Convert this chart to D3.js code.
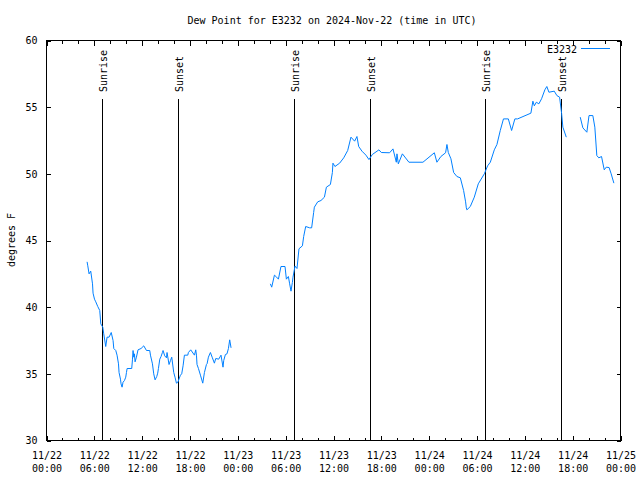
<!DOCTYPE html>
<html><head><meta charset="utf-8">
<script src="https://cdn.jsdelivr.net/npm/d3@7"></script>
<style>body{margin:0;background:#fff} svg{display:block} text{font-family:"DejaVu Sans Mono",monospace;font-size:10px;fill:#000}</style>
</head><body><svg id="c" width="640" height="480"></svg>
<script>
// hours since 2024-11-22 00:00 UTC; null dew point marks a data gap
const hours = [
5.09,5.18,5.34,5.55,5.77,5.84,6.02,6.18,6.43,6.68,6.81,7.06,7.18,7.43,7.60,7.85,8.12,8.35,8.44,8.69,8.85,9.03,9.10,9.28,9.35,9.48,9.60,9.78,9.94,10.03,10.11,10.69,10.78,10.86,10.95,11.03,11.11,11.28,11.48,11.86,12.20,12.54,12.95,13.04,13.29,13.45,13.62,13.83,13.95,14.04,14.21,14.37,14.54,14.62,14.83,15.05,15.12,15.37,15.55,15.71,15.96,16.12,16.30,16.46,16.80,16.96,17.13,17.30,17.72,17.80,18.09,18.56,18.72,18.81,18.88,19.06,19.31,19.60,19.81,20.06,20.14,20.31,20.56,20.81,21.06,21.23,21.60,21.89,22.14,22.23,22.44,22.64,22.82,22.98,23.15,
25.5,
28.08,28.25,28.59,28.87,29.09,29.41,29.92,30.09,30.34,30.50,30.67,30.84,30.92,31.17,31.42,31.67,32.10,32.26,32.51,33.01,33.26,33.51,33.60,34.02,34.43,34.86,35.11,35.61,35.86,35.93,36.18,36.77,37.28,37.78,38.19,38.65,38.94,39.16,39.57,40.07,40.45,40.87,41.70,42.00,43.04,43.46,43.88,43.96,44.13,44.64,45.46,47.22,48.65,48.97,49.47,50.06,50.23,50.40,50.73,51.07,51.48,51.91,52.32,52.57,52.66,52.73,53.16,53.66,54.16,54.92,55.33,55.67,56.17,56.50,56.92,57.32,57.93,58.34,58.75,59.09,60.76,61.01,61.19,61.44,61.76,62.10,62.51,62.76,63.02,63.69,64.02,64.36,64.61,64.77,65.20,
66.0,
66.95,67.28,67.78,68.05,68.53,68.78,69.03,69.28,69.62,69.96,70.21,70.57,70.83,71.17
];
const dewPoint = [
43.4,43.1,42.5,42.7,41.75,41.05,40.6,40.4,40.05,39.75,38.75,38.5,38.0,37.05,37.75,37.75,38.1,37.5,36.9,36.75,36.4,35.75,35.1,34.6,34.25,34.0,34.37,34.5,34.75,35.1,35.4,35.4,36.05,36.75,36.25,36.5,35.9,36.25,36.8,36.9,37.1,36.75,36.75,36.4,35.75,35.0,34.55,34.8,35.05,35.4,36.1,36.3,36.6,36.75,36.35,36.2,36.6,35.7,36.0,36.25,35.1,34.75,34.3,34.35,34.9,35.0,35.6,36.4,36.4,36.6,36.8,36.4,36.8,36.4,35.7,35.4,34.9,34.3,35.1,35.7,35.75,36.25,36.6,36.2,35.8,36.15,36.1,36.4,35.5,36.0,36.45,36.5,36.9,37.55,36.95,
null,
41.75,41.5,42.4,42.25,42.1,43.05,43.05,42.1,42.3,41.75,41.2,41.85,42.25,43.08,42.9,44.38,44.6,45.3,46.05,45.95,45.95,47.1,47.5,47.9,48.0,48.25,49.0,49.2,50.1,50.8,50.55,50.8,51.2,51.75,52.75,52.45,52.8,52.05,51.7,51.4,51.07,51.45,51.8,51.6,51.58,51.87,50.87,51.5,50.75,51.5,50.87,50.87,51.58,50.87,51.3,51.58,52.2,51.6,51.13,50.1,49.8,49.7,48.75,47.9,47.45,47.3,47.55,48.25,49.25,50.0,50.6,50.87,51.8,52.2,53.25,54.12,54.12,53.25,54.12,54.12,54.55,55.45,55.1,55.37,55.25,55.63,56.3,56.55,56.12,56.2,55.87,55.75,54.55,53.5,52.75,
null,
54.25,53.45,53.12,54.37,54.37,53.5,51.37,51.2,51.3,50.3,50.5,50.47,50.0,49.3
];
const sunriseHours = [6.97, 31.04, 54.99];
const sunsetHours = [16.50, 40.57, 64.52];
const xTickHours = [0,6,12,18,24,30,36,42,48,54,60,66,72];
const xTickLabels = ["11/22|00:00","11/22|06:00","11/22|12:00","11/22|18:00","11/23|00:00","11/23|06:00","11/23|12:00","11/23|18:00","11/24|00:00","11/24|06:00","11/24|12:00","11/24|18:00","11/25|00:00"];
const yTicks = [30,35,40,45,50,55,60];
const seriesName = "E3232";
const titleText = "Dew Point for E3232 on 2024-Nov-22 (time in UTC)";
const yLabel = "degrees F";

const t0 = Date.UTC(2024,10,22,0,0);
const H = 3600000;
const svg = d3.select("#c");
const L = 46.5, R = 620.5, T = 40.5, B = 440.5;
const x = d3.scaleUtc().domain([new Date(t0), new Date(t0 + 72*H)]).range([L, R]);
const y = d3.scaleLinear().domain([30, 60]).range([B, T]);

svg.append("rect").attr("width",640).attr("height",480).attr("fill","#fff");

// title
svg.append("text").attr("x",332).attr("y",24).attr("text-anchor","middle").text(titleText);
// y label
svg.append("text").attr("transform","translate(15,240) rotate(-90)").attr("text-anchor","middle").text(yLabel);

const minorTicks = d3.range(0, 73, 2).map(h => new Date(t0 + h*H));
const majorTicks = xTickHours.map(h => new Date(t0 + h*H));

function clean(g){ g.select(".domain").remove(); g.selectAll("line").attr("stroke","#000").attr("shape-rendering","crispEdges"); }

svg.append("g").attr("transform",`translate(0,${B})`)
  .call(d3.axisBottom(x).tickValues(minorTicks).tickSize(-3).tickFormat("")).call(clean);
svg.append("g").attr("transform",`translate(0,${T})`)
  .call(d3.axisTop(x).tickValues(minorTicks).tickSize(-3).tickFormat("")).call(clean);
svg.append("g").attr("transform",`translate(0,${T})`)
  .call(d3.axisTop(x).tickValues(majorTicks).tickSize(-5).tickFormat("")).call(clean);
const xb = svg.append("g").attr("transform",`translate(0,${B})`)
  .call(d3.axisBottom(x).tickValues(majorTicks).tickSize(-5).tickPadding(11).tickFormat((d,i)=>xTickLabels[i])).call(clean);
xb.selectAll("text").each(function(){
  const parts = d3.select(this).text().split("|");
  const t = d3.select(this).text(null).attr("dy",null);
  t.append("tspan").attr("x",0).attr("dy","0.71em").text(parts[0]);
  t.append("tspan").attr("x",0).attr("dy","1.3em").text(parts[1]);
});
svg.append("g").attr("transform",`translate(${L},0)`)
  .call(d3.axisLeft(y).tickValues(yTicks).tickSize(-4).tickPadding(9)).call(clean);
svg.append("g").attr("transform",`translate(${R},0)`)
  .call(d3.axisRight(y).tickValues(yTicks).tickSize(-4).tickFormat("")).call(clean);
svg.selectAll("g").attr("font-family",null).attr("font-size",null);

// frame
svg.append("rect").attr("x",L).attr("y",T).attr("width",R-L).attr("height",B-T)
  .attr("fill","none").attr("stroke","#000").attr("shape-rendering","crispEdges");

// sunrise / sunset markers
const marks = sunriseHours.map(h=>({h,label:"Sunrise"})).concat(sunsetHours.map(h=>({h,label:"Sunset"})));
marks.forEach(m=>{
  const xp = Math.round(x(new Date(t0 + m.h*H))) + 0.5;
  svg.append("line").attr("x1",xp).attr("x2",xp).attr("y1",99).attr("y2",B)
    .attr("stroke","#000").attr("shape-rendering","crispEdges");
  svg.append("text").attr("transform",`translate(${xp+1},92) rotate(-90)`)
    .attr("dy","0.35em").attr("text-anchor","start").text(m.label);
});

// data line
const pts = hours.map((h,i)=>({t:new Date(t0 + h*H), v:dewPoint[i]}));
svg.append("path").datum(pts)
  .attr("fill","none").attr("stroke","#0080ff").attr("stroke-width",1)
  .attr("d", d3.line().defined(d=>d.v!==null).x(d=>x(d.t)).y(d=>y(d.v)));

// legend
svg.append("text").attr("x",577).attr("y",53).attr("text-anchor","end").text(seriesName);
svg.append("line").attr("x1",581).attr("x2",610).attr("y1",48.5).attr("y2",48.5)
  .attr("stroke","#0080ff").attr("shape-rendering","crispEdges");
</script></body></html>
